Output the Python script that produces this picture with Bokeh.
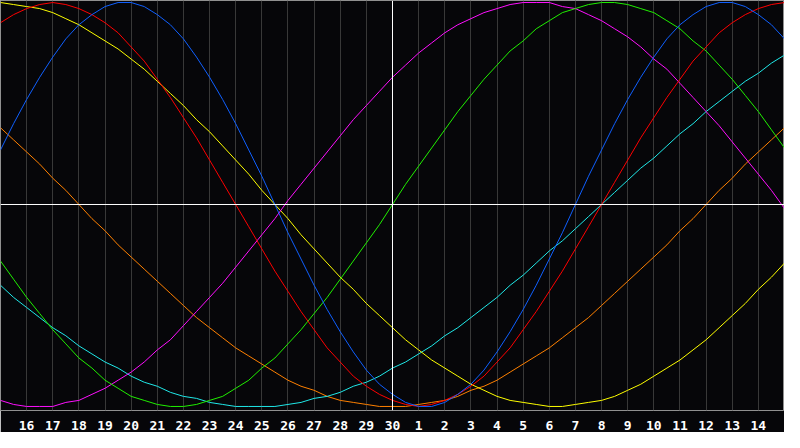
from bokeh.plotting import figure
from bokeh.models import Span, FixedTicker
from bokeh.embed import file_html
from bokeh.resources import INLINE

# days 15..45 (31 = day 1 of next month), values read at each day and at each mid-day
days = list(range(15, 46))
mid_days = [d + 0.5 for d in days[:-1]]
tick_days = list(range(16, 45))
tick_labels = {d: str(d if d <= 30 else d - 30) for d in tick_days}

physical = [0.27, 0.52, 0.73, 0.89, 0.98, 1.00, 0.94, 0.82, 0.63, 0.40, 0.14, -0.14, -0.40, -0.63, -0.82, -0.94,
            -1.00, -0.98, -0.89, -0.73, -0.52, -0.27, 0.00, 0.27, 0.52, 0.73, 0.89, 0.98, 1.00, 0.94, 0.82]
physical_mid = [0.40, 0.63, 0.82, 0.94, 1.00, 0.98, 0.89, 0.73, 0.52, 0.27, 0.00, -0.27, -0.52, -0.73, -0.89,
                -0.98, -1.00, -0.94, -0.82, -0.63, -0.40, -0.14, 0.14, 0.40, 0.63, 0.82, 0.94, 1.00, 0.98, 0.89]
emotional = [0.90, 0.97, 1.00, 0.97, 0.90, 0.78, 0.62, 0.43, 0.22, 0.00, -0.22, -0.43, -0.62, -0.78, -0.90, -0.97,
             -1.00, -0.97, -0.90, -0.78, -0.62, -0.43, -0.22, 0.00, 0.22, 0.43, 0.62, 0.78, 0.90, 0.97, 1.00]
emotional_mid = [0.94, 0.99, 0.99, 0.94, 0.85, 0.71, 0.53, 0.33, 0.11, -0.11, -0.33, -0.53, -0.71, -0.85, -0.94,
                 -0.99, -0.99, -0.94, -0.85, -0.71, -0.53, -0.33, -0.11, 0.11, 0.33, 0.53, 0.71, 0.85, 0.94, 0.99]
intellectual = [-0.28, -0.46, -0.62, -0.76, -0.87, -0.95, -0.99, -1.00, -0.97, -0.91, -0.81, -0.69, -0.54, -0.37,
                -0.19, 0.00, 0.19, 0.37, 0.54, 0.69, 0.81, 0.91, 0.97, 1.00, 0.99, 0.95, 0.87, 0.76, 0.62, 0.46, 0.28]
intellectual_mid = [-0.37, -0.54, -0.69, -0.81, -0.91, -0.97, -1.00, -0.99, -0.95, -0.87, -0.76, -0.62, -0.46,
                    -0.28, -0.10, 0.10, 0.28, 0.46, 0.62, 0.76, 0.87, 0.95, 0.99, 1.00, 0.97, 0.91, 0.81, 0.69,
                    0.54, 0.37]
intuitive = [-0.97, -1.00, -1.00, -0.97, -0.91, -0.83, -0.72, -0.60, -0.46, -0.31, -0.15, 0.02, 0.18, 0.34, 0.49,
             0.63, 0.75, 0.85, 0.92, 0.97, 1.00, 1.00, 0.97, 0.91, 0.83, 0.72, 0.60, 0.46, 0.31, 0.15, -0.02]
intuitive_mid = [-0.99, -1.00, -0.98, -0.94, -0.87, -0.78, -0.67, -0.53, -0.39, -0.23, -0.07, 0.10, 0.26, 0.42,
                 0.56, 0.69, 0.80, 0.89, 0.95, 0.99, 1.00, 0.98, 0.94, 0.87, 0.78, 0.67, 0.53, 0.39, 0.23, 0.07]
aesthetic = [1.00, 0.98, 0.95, 0.89, 0.81, 0.72, 0.61, 0.49, 0.36, 0.22, 0.07, -0.07, -0.22, -0.36, -0.49, -0.61,
             -0.72, -0.81, -0.89, -0.95, -0.98, -1.00, -0.99, -0.97, -0.92, -0.85, -0.77, -0.67, -0.55, -0.42, -0.29]
aesthetic_mid = [0.99, 0.97, 0.92, 0.85, 0.77, 0.67, 0.55, 0.42, 0.29, 0.15, 0.00, -0.15, -0.29, -0.42, -0.55,
                 -0.67, -0.77, -0.85, -0.92, -0.97, -0.99, -1.00, -0.98, -0.95, -0.89, -0.81, -0.72, -0.61, -0.49,
                 -0.36]
awareness = [0.38, 0.26, 0.13, 0.00, -0.13, -0.26, -0.38, -0.50, -0.61, -0.71, -0.79, -0.87, -0.92, -0.97, -0.99,
             -1.00, -0.99, -0.97, -0.92, -0.87, -0.79, -0.71, -0.61, -0.50, -0.38, -0.26, -0.13, 0.00, 0.13, 0.26, 0.38]
awareness_mid = [0.32, 0.20, 0.07, -0.07, -0.20, -0.32, -0.44, -0.56, -0.66, -0.75, -0.83, -0.90, -0.95, -0.98,
                 -1.00, -1.00, -0.98, -0.95, -0.90, -0.83, -0.75, -0.66, -0.56, -0.44, -0.32, -0.20, -0.07, 0.07,
                 0.20, 0.32]
spiritual = [-0.40, -0.51, -0.61, -0.70, -0.78, -0.85, -0.90, -0.95, -0.98, -1.00, -1.00, -0.99, -0.96, -0.93, -0.88,
             -0.81, -0.74, -0.65, -0.56, -0.46, -0.35, -0.23, -0.12, 0.00, 0.12, 0.23, 0.35, 0.46, 0.56, 0.65, 0.74]
spiritual_mid = [-0.46, -0.56, -0.65, -0.74, -0.81, -0.88, -0.93, -0.96, -0.99, -1.00, -1.00, -0.98, -0.95, -0.90,
                 -0.85, -0.78, -0.70, -0.61, -0.51, -0.40, -0.29, -0.18, -0.06, 0.06, 0.18, 0.29, 0.40, 0.51, 0.61,
                 0.70]

series = [
    (awareness, awareness_mid, "#ff8000"),
    (spiritual, spiritual_mid, "#20e8e8"),
    (aesthetic, aesthetic_mid, "#ffff00"),
    (intuitive, intuitive_mid, "#ff10ff"),
    (intellectual, intellectual_mid, "#20f000"),
    (emotional, emotional_mid, "#ff0000"),
    (physical, physical_mid, "#1060ff"),
]


def merge(full, mid):
    # alternate day / mid-day readings
    xs, ys = [], []
    for i in range(len(mid)):
        xs += [days[i], mid_days[i]]
        ys += [full[i], mid[i]]
    return xs + [days[-1]], ys + [full[-1]]


p = figure(width=784, height=432, x_range=(15, 45), y_range=(-1.02, 1.01),
           output_backend="svg", toolbar_location=None)
p.background_fill_color = "#060609"
p.border_fill_color = "#060609"
p.outline_line_color = "#909090"
p.min_border_left = 0
p.min_border_right = 0
p.min_border_top = 0
p.min_border_bottom = 0

p.ygrid.grid_line_color = None
p.xgrid.ticker = FixedTicker(ticks=tick_days)
p.xgrid.grid_line_color = "#383838"
p.yaxis.visible = False

p.xaxis.ticker = FixedTicker(ticks=tick_days)
p.xaxis.major_label_overrides = tick_labels
p.xaxis.axis_line_color = None
p.xaxis.major_tick_line_color = None
p.xaxis.minor_tick_line_color = None
p.xaxis.major_label_standoff = 4
p.xaxis.major_label_text_color = "white"
p.xaxis.major_label_text_font = "DejaVu Sans Mono"
p.xaxis.major_label_text_font_style = "bold"
p.xaxis.major_label_text_font_size = "13px"

p.add_layout(Span(location=0, dimension="width", line_color="white", line_width=1))
p.add_layout(Span(location=30, dimension="height", line_color="white", line_width=1))

for full, mid, col in series:
    xs, ys = merge(full, mid)
    p.line(xs, ys, line_color=col, line_width=1)

open("out.html", "w").write(file_html(p, INLINE))
